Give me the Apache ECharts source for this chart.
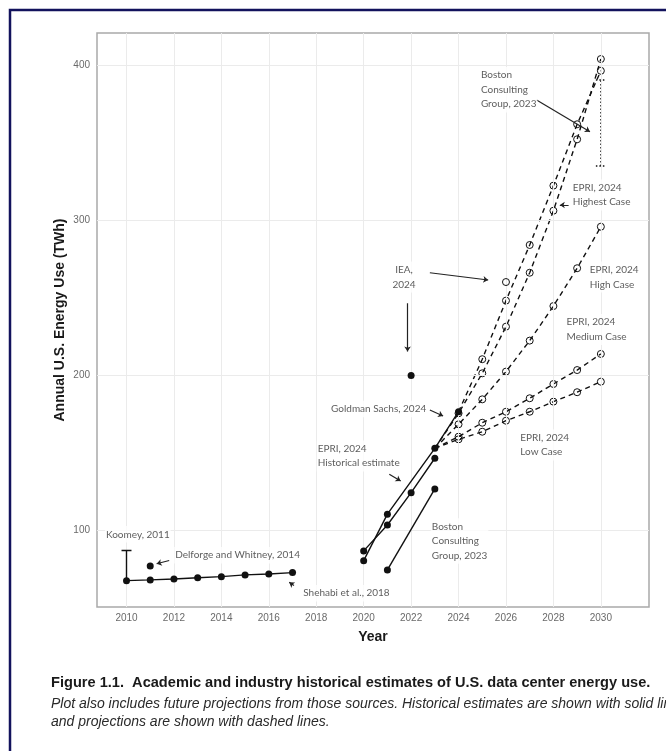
<!DOCTYPE html>
<html>
<head>
<meta charset="utf-8">
<script src="https://cdn.jsdelivr.net/npm/echarts@6/dist/echarts.min.js"></script>
<style>
  html, body { margin: 0; padding: 0; background: #fff; }
  #chart { width: 666px; height: 751px; }
</style>
</head>
<body>
<div id="chart"></div>
<script>
// ---- Historical estimates (TWh) ----
const shehabiYears = [2010, 2011, 2012, 2013, 2014, 2015, 2016, 2017];
const shehabi = [67.6, 68.1, 68.7, 69.5, 70.2, 71.3, 71.9, 72.8];

const koomeyYear = 2010;
const koomeyRange = [67.0, 87.4];

const delforgeYears = [2011];
const delforge = [77.1];

const goldmanHistYears = [2020, 2021, 2023, 2024];
const goldmanHist = [80.5, 110.5, 153.0, 176.6];

const epriHistYears = [2020, 2021, 2022, 2023];
const epriHist = [86.8, 103.5, 124.4, 146.6];

const bcgHistYears = [2021, 2023];
const bcgHist = [74.5, 126.8];

const ieaHistYears = [2022];
const ieaHist = [200.0];

// ---- Projections (TWh) ----
const ieaProjYears = [2026];
const ieaProj = [260.3];

const epriProjYears = [2023, 2024, 2025, 2026, 2027, 2028, 2029, 2030];
const epriLow = [153.0, 158.8, 163.7, 170.8, 176.6, 183.1, 189.2, 196.0];
const epriMedium = [153.0, 160.5, 169.5, 176.6, 185.3, 194.5, 203.5, 213.9];
const epriHigh = [153.0, 168.5, 184.6, 202.5, 222.5, 244.8, 269.2, 296.0];
const epriHighest = [153.0, 175.6, 201.4, 231.5, 266.3, 306.3, 352.4, 404.2];

const goldmanProjYears = [2024, 2025, 2026, 2027, 2028, 2029, 2030];
const goldmanProj = [176.6, 210.5, 248.3, 284.2, 322.5, 362.1, 396.6];

const bcgRangeYear = 2030;
const bcgRange = [335.2, 390.6];

// ---- Axis ticks ----
const xTicks = [2010, 2012, 2014, 2016, 2018, 2020, 2022, 2024, 2026, 2028, 2030];
const yTicks = [100, 200, 300, 400];

// ---- Annotation texts ----
const annotationTexts = {
  bcgTop: 'Boston\nConsulting\nGroup, 2023',
  epriHighest: 'EPRI, 2024\nHighest Case',
  epriHigh: 'EPRI, 2024\nHigh Case',
  epriMedium: 'EPRI, 2024\nMedium Case',
  epriLow: 'EPRI, 2024\nLow Case',
  iea: 'IEA,\n2024',
  goldman: 'Goldman Sachs, 2024',
  epriHist: 'EPRI, 2024\nHistorical estimate',
  bcgLow: 'Boston\nConsulting\nGroup, 2023',
  koomey: 'Koomey, 2011',
  delforge: 'Delforge and Whitney, 2014',
  shehabi: 'Shehabi et al., 2018'
};

// Where each annotation sits, in data units (year, TWh)
const annotationPlacement = [
  { key: 'bcgTop',      at: [2024.90, 384.4], align: 'left' },
  { key: 'epriHighest', at: [2028.77, 316.5], align: 'left' },
  { key: 'epriHigh',    at: [2029.49, 263.5], align: 'left' },
  { key: 'epriMedium',  at: [2028.51, 229.7], align: 'left' },
  { key: 'epriLow',     at: [2026.56, 155.2], align: 'left' },
  { key: 'iea',         at: [2021.70, 263.5], align: 'center' },
  { key: 'goldman',     at: [2018.58, 178.4], align: 'left' },
  { key: 'epriHist',    at: [2018.02, 148.1], align: 'left' },
  { key: 'bcgLow',      at: [2022.83, 93.2],  align: 'left' },
  { key: 'koomey',      at: [2009.09, 97.5],  align: 'left' },
  { key: 'delforge',    at: [2012.01, 84.0],  align: 'left' },
  { key: 'shehabi',     at: [2017.41, 59.5],  align: 'left' }
];

// Leader arrows, from label toward the mark (data units)
const arrowSegments = [
  [[2027.29, 377.7], [2029.54, 357.3]],
  [[2028.64, 310.0], [2028.27, 310.0]],
  [[2022.79, 266.3], [2025.25, 261.6]],
  [[2021.85, 246.6], [2021.85, 215.4]],
  [[2022.79, 177.7], [2023.35, 173.9]],
  [[2021.08, 136.3], [2021.56, 131.9]],
  [[2011.80, 80.6],  [2011.27, 78.5]],
  [[2017.06, 64.4],  [2016.86, 66.5]]
];

const pair = (xs, ys) => xs.map((x, i) => [x, ys[i]]);

const INK = '#111';
const solidLine = (name, xs, ys) => ({
  name, type: 'line', data: pair(xs, ys), z: 5,
  symbol: 'circle', symbolSize: 7,
  itemStyle: { color: INK, opacity: 1 },
  lineStyle: { color: INK, width: 1.4 }
});

// Dashed projections: the first point belongs to the historical line (no open marker)
const dashedLine = (name, xs, ys) => ({
  name, type: 'line', z: 4,
  data: pair(xs, ys).map((p, i) => i === 0 ? { value: p, symbol: 'none' } : p),
  symbol: 'circle', symbolSize: 7,
  itemStyle: { color: 'rgba(0,0,0,0)', borderColor: INK, borderWidth: 1, opacity: 1 },
  lineStyle: { color: INK, width: 1.4, type: [5, 4] }
});

const filledPoints = (name, xs, ys) => ({
  name, type: 'scatter', data: pair(xs, ys), z: 6,
  symbol: 'circle', symbolSize: 7, itemStyle: { color: INK, opacity: 1 }
});

const openPoints = (name, xs, ys) => ({
  name, type: 'scatter', data: pair(xs, ys), z: 6,
  symbol: 'circle', symbolSize: 7,
  itemStyle: { color: 'rgba(0,0,0,0)', borderColor: INK, borderWidth: 1, opacity: 1 }
});

const capHalf = 0.21;

const series = [
  // light panel grid
  {
    type: 'line', data: [], z: 1, silent: true,
    markLine: {
      silent: true, symbol: 'none', animation: false,
      label: { show: false },
      lineStyle: { color: '#ebebeb', width: 1, type: 'solid' },
      data: xTicks.map(v => ({ xAxis: v })).concat(yTicks.map(v => ({ yAxis: v })))
    }
  },
  // Koomey range bar
  {
    type: 'lines', coordinateSystem: 'cartesian2d', z: 5, symbol: 'none',
    lineStyle: { color: INK, width: 1.4, opacity: 1 },
    data: [
      { coords: [[koomeyYear, koomeyRange[0]], [koomeyYear, koomeyRange[1]]] },
      { coords: [[koomeyYear - capHalf, koomeyRange[1]], [koomeyYear + capHalf, koomeyRange[1]]] }
    ]
  },
  // BCG 2030 range
  {
    type: 'lines', coordinateSystem: 'cartesian2d', z: 4, symbol: 'none',
    lineStyle: { color: INK, width: 1.5, type: [1.5, 2], opacity: 1 },
    data: [
      { coords: [[bcgRangeYear, bcgRange[0]], [bcgRangeYear, bcgRange[1]]] },
      { coords: [[bcgRangeYear - capHalf, bcgRange[1]], [bcgRangeYear + capHalf, bcgRange[1]]] },
      { coords: [[bcgRangeYear - capHalf, bcgRange[0]], [bcgRangeYear + capHalf, bcgRange[0]]] }
    ]
  },
  dashedLine('EPRI Low', epriProjYears, epriLow),
  dashedLine('EPRI Medium', epriProjYears, epriMedium),
  dashedLine('EPRI High', epriProjYears, epriHigh),
  dashedLine('EPRI Highest', epriProjYears, epriHighest),
  dashedLine('Goldman Sachs projection', goldmanProjYears, goldmanProj),
  solidLine('Shehabi et al.', shehabiYears, shehabi),
  solidLine('Goldman Sachs', goldmanHistYears, goldmanHist),
  solidLine('EPRI historical', epriHistYears, epriHist),
  solidLine('BCG historical', bcgHistYears, bcgHist),
  filledPoints('Delforge and Whitney', delforgeYears, delforge),
  filledPoints('IEA', ieaHistYears, ieaHist),
  openPoints('IEA projection', ieaProjYears, ieaProj),
  // leader arrows
  {
    type: 'lines', coordinateSystem: 'cartesian2d', z: 7,
    symbol: ['none', 'arrow'], symbolSize: 5,
    lineStyle: { color: '#222', width: 1.2, opacity: 1 },
    data: arrowSegments.map(c => ({ coords: c }))
  },
  // annotation labels
  {
    type: 'scatter', z: 8, silent: true, symbolSize: 0,
    itemStyle: { color: 'rgba(0,0,0,0)' },
    data: annotationPlacement.map(a => ({
      value: a.at,
      label: {
        show: true, position: [0, 0],
        formatter: annotationTexts[a.key],
        align: a.align, verticalAlign: 'middle',
        fontFamily: 'Lato', fontSize: 10, lineHeight: 14.5,
        color: '#333', backgroundColor: '#fff', padding: [1, 1]
      }
    }))
  }
];

const chart = echarts.init(document.getElementById('chart'), null, { renderer: 'canvas' });

chart.setOption({
  animation: false,
  backgroundColor: '#fff',
  grid: {
    left: 97, right: 17, top: 33, bottom: 144,
    show: true, borderColor: '#a9a9a9', borderWidth: 1.5, backgroundColor: '#fff'
  },
  xAxis: {
    type: 'value', min: 2008.756, max: 2032.03,
    name: 'Year', nameLocation: 'middle', nameGap: 23,
    nameTextStyle: { fontFamily: 'Liberation Sans', fontWeight: 'bold', fontSize: 14, color: '#1a1a1a' },
    axisLine: { show: false }, axisTick: { show: false }, splitLine: { show: false },
    axisLabel: {
      customValues: xTicks, margin: 6,
      formatter: v => String(Math.round(v)),
      fontFamily: 'Liberation Sans', fontSize: 10, color: '#6a6a6a'
    }
  },
  yAxis: {
    type: 'value', min: 50.6, max: 421,
    name: 'Annual U.S. Energy Use (TWh)', nameLocation: 'middle', nameRotate: 90,
    nameGap: 30, nameMoveOverlap: false,
    nameTextStyle: { fontFamily: 'Liberation Sans', fontWeight: 'bold', fontSize: 14, color: '#1a1a1a' },
    axisLine: { show: false }, axisTick: { show: false }, splitLine: { show: false },
    axisLabel: {
      customValues: yTicks, margin: 7,
      formatter: v => String(Math.round(v)),
      fontFamily: 'Liberation Sans', fontSize: 10, color: '#6a6a6a'
    }
  },
  series: series,
  graphic: [
    {
      type: 'rect', silent: true, z: 100,
      shape: { x: 10, y: 10, width: 720, height: 800 },
      style: { fill: 'none', stroke: '#12125c', lineWidth: 2.5 }
    },
    {
      type: 'text', left: 51, top: 675, z: 100,
      style: {
        text: 'Figure 1.1.  Academic and industry historical estimates of U.S. data center energy use.',
        font: 'bold 14.6px "Liberation Sans"', fill: '#1a1a1a'
      }
    },
    {
      type: 'text', left: 51, top: 697, z: 100,
      style: {
        text: 'Plot also includes future projections from those sources. Historical estimates are shown with solid lines',
        font: 'italic 14px "Liberation Sans"', fill: '#2a2a2a'
      }
    },
    {
      type: 'text', left: 51, top: 715, z: 100,
      style: {
        text: 'and projections are shown with dashed lines.',
        font: 'italic 14px "Liberation Sans"', fill: '#2a2a2a'
      }
    }
  ]
});
</script>
</body>
</html>
